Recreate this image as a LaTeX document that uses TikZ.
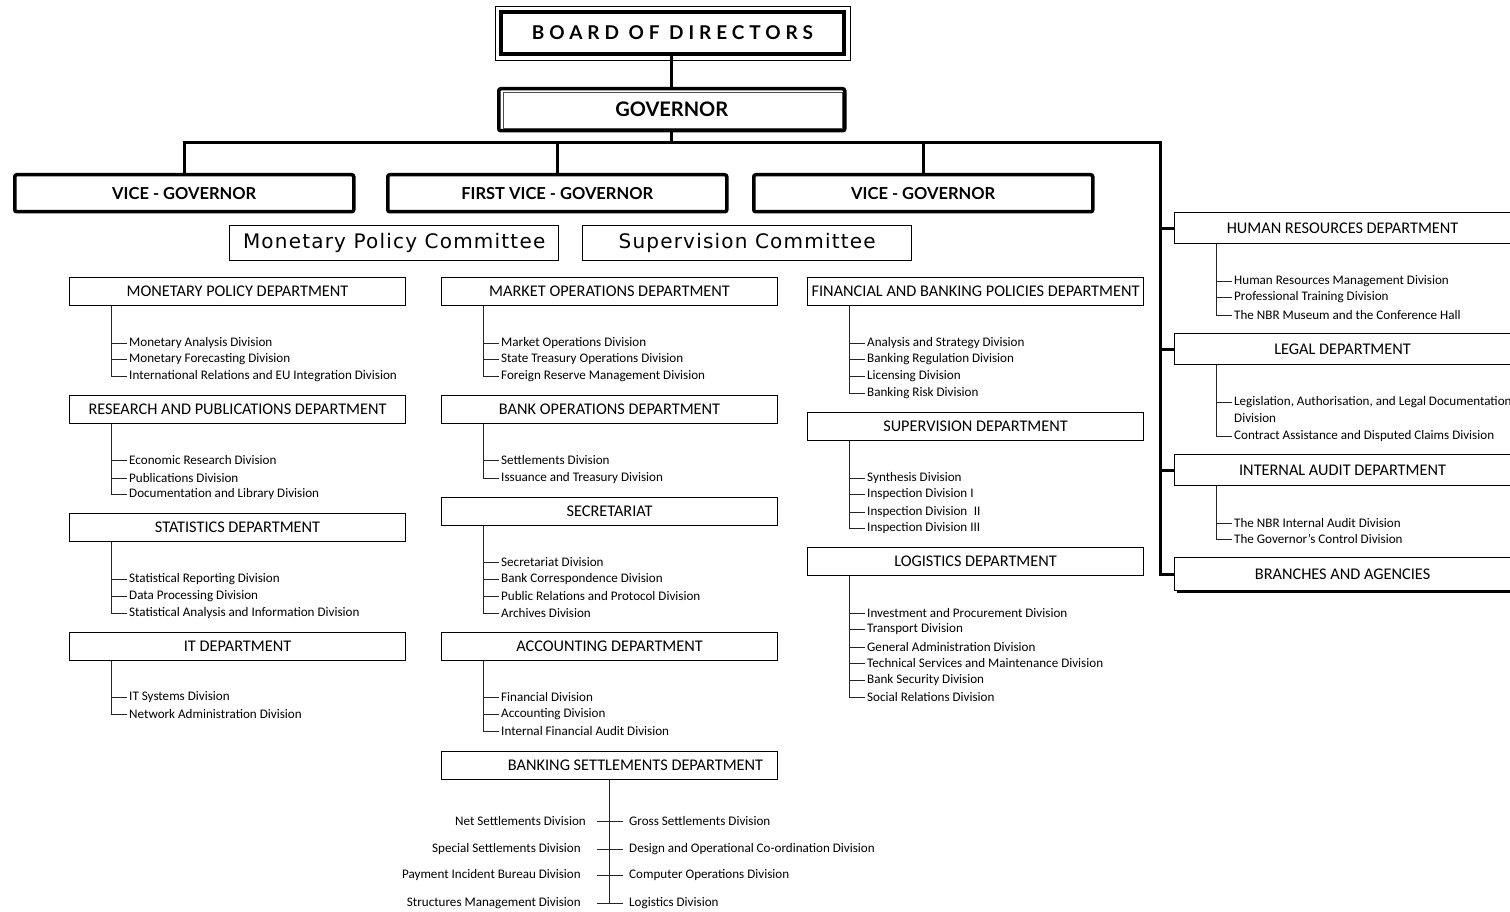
\documentclass[tikz,border=0pt]{standalone}
\usepackage{fontspec}
\setmainfont{Carlito}
\newfontfamily\hdfont{Lato}
\newfontfamily\boardfont[LetterSpace=26]{Lato}
\newfontfamily\comfont[LetterSpace=6]{DejaVu Sans}
\usetikzlibrary{calc,shadows}
\newcommand\divlist[4]{%
  \foreach \yy/\txt in {#4} {
    \node[divtext] (#1-\yy) at (#2,\yy) {\txt};
    \draw[divline] (#1-\yy.west) -- ++(-16,0);
  }
  \draw[divline] ([xshift=42pt]#1.south west) |- (#1-#3.west);
}
\begin{document}
\begin{tikzpicture}[x=1pt,y=-1pt,
  dept/.style={draw, line width=1.1pt, minimum width=336pt, minimum height=28pt, inner sep=0pt,
    anchor=north west, font=\fontsize{16.3}{18}\selectfont},
  rdept/.style={dept, minimum height=31pt},
  divtext/.style={anchor=west, inner sep=2pt, font=\fontsize{13.1}{15}\selectfont},
  divline/.style={line width=0.8pt, draw=black!85},
  vgbox/.style={draw, line width=3.5pt, rounded corners=2pt, minimum width=339pt, minimum height=37pt,
    inner sep=0pt, anchor=north west, font=\hdfont\bfseries\fontsize{16.5}{18}\selectfont},
  combox/.style={draw, line width=1.3pt, minimum width=329pt, minimum height=35pt, inner sep=0pt,
    anchor=north west, font=\comfont\fontsize{20}{22}\selectfont},
  bus/.style={line width=3pt}
]
\useasboundingbox (0,0) rectangle (1510,912);

% Board and governor
\node[draw, line width=4pt, minimum width=343pt, minimum height=42pt, inner sep=0pt, anchor=north west,
  font=\boardfont\bfseries\fontsize{19}{21}\selectfont] (board) at (499,10) {BOARD OF DIRECTORS};
\draw[line width=0.8pt] ([shift={(-4,-4)}]board.north west) rectangle ([shift={(4,4)}]board.south east);
\node[draw, line width=3.5pt, rounded corners=2pt, minimum width=346pt, minimum height=42pt, inner sep=0pt,
  anchor=north west, font=\hdfont\bfseries\fontsize{20}{22}\selectfont] (gov) at (497,87) {GOVERNOR};
\draw[line width=0.8pt, black!70] ([shift={(6,5)}]gov.north west) rectangle ([shift={(-4,-4)}]gov.south east);

% Vice governors
\node[vgbox] (vg1) at (13,173) {VICE - GOVERNOR};
\node[vgbox] (vg2) at (386,173) {FIRST VICE - GOVERNOR};
\node[vgbox] (vg3) at (752,173) {VICE - GOVERNOR};

% Committees
\node[combox] (mpc) at (229,225) {Monetary Policy Committee};
\node[combox] (supc) at (582,225) {Supervision Committee};

% Right column departments
\node[rdept] (hr) at (1174,212) {HUMAN RESOURCES DEPARTMENT};
\node[rdept] (legal) at (1174,333) {LEGAL DEPARTMENT};
\node[rdept] (ia) at (1174,454) {INTERNAL AUDIT DEPARTMENT};
\node[dept, minimum height=33pt, fill=white,
  drop shadow={shadow xshift=2pt, shadow yshift=-2pt, opacity=1, fill=black}] (br) at (1174,557) {BRANCHES AND AGENCIES};

% Bus lines
\coordinate (busL) at (182,143);
\coordinate (busR) at (1160,143);
\draw[bus] (gov.north) -- (gov.north |- board.south);
\draw[bus] (gov.south) -- (gov.south |- busL);
\draw[bus] (vg1.north) |- (busR) |- (br.west);
\draw[bus] (vg2.north) -- (vg2.north |- busL);
\draw[bus] (vg3.north) -- (vg3.north |- busL);
\draw[bus] (hr.west -| busR) -- (hr.west);
\draw[bus] (legal.west -| busR) -- (legal.west);
\draw[bus] (ia.west -| busR) -- (ia.west);

% Left column
\node[dept] (mpd) at (69,277) {MONETARY POLICY DEPARTMENT};
\divlist{mpd}{127}{376}{343/Monetary Analysis Division, 359/Monetary Forecasting Division, 376/International Relations and EU Integration Division}
\node[dept] (rpd) at (69,395) {RESEARCH AND PUBLICATIONS DEPARTMENT};
\divlist{rpd}{127}{494}{460/Economic Research Division, 478/Publications Division, 494/Documentation and Library Division}
\node[dept] (sd) at (69,513) {STATISTICS DEPARTMENT};
\divlist{sd}{127}{613}{579/Statistical Reporting Division, 596/Data Processing Division, 613/Statistical Analysis and Information Division}
\node[dept] (itd) at (69,632) {IT DEPARTMENT};
\divlist{itd}{127}{714}{697/IT Systems Division, 714/Network Administration Division}

% Middle column
\node[dept] (mod) at (441,277) {MARKET OPERATIONS DEPARTMENT};
\divlist{mod}{499}{376}{343/Market Operations Division, 359/State Treasury Operations Division, 376/Foreign Reserve Management Division}
\node[dept] (bod) at (441,395) {BANK OPERATIONS DEPARTMENT};
\divlist{bod}{499}{478}{460/Settlements Division, 478/Issuance and Treasury Division}
\node[dept] (sec) at (441,497) {SECRETARIAT};
\divlist{sec}{499}{613}{562/Secretariat Division, 579/Bank Correspondence Division, 596/Public Relations and Protocol Division, 613/Archives Division}
\node[dept] (acc) at (441,632) {ACCOUNTING DEPARTMENT};
\divlist{acc}{499}{731}{697/Financial Division, 714/Accounting Division, 731/Internal Financial Audit Division}
\node[dept] (bsd) at (441,751) {\hspace*{52pt}BANKING SETTLEMENTS DEPARTMENT};

% Banking settlements divisions
\foreach \yy/\lt/\rt/\le in {821/Net Settlements Division/Gross Settlements Division/588,
  849/Special Settlements Division/Design and Operational Co-ordination Division/583,
  875/Payment Incident Bureau Division/Computer Operations Division/583,
  903/Structures Management Division/Logistics Division/583} {
  \node[divtext, anchor=east] (bsl-\yy) at (\le,\yy) {\lt};
  \node[divtext] (bsr-\yy) at (627,\yy) {\rt};
  \draw[divline] ($(bsd.south |- bsr-\yy.west)+(-13,0)$) -- ($(bsd.south |- bsr-\yy.west)+(13,0)$);
}
\draw[divline] (bsd.south) -- (bsd.south |- bsr-903.west);

% Right-middle column
\node[dept] (fbp) at (807,277) {FINANCIAL AND BANKING POLICIES DEPARTMENT};
\divlist{fbp}{865}{393}{343/Analysis and Strategy Division, 359/Banking Regulation Division, 376/Licensing Division, 393/Banking Risk Division}
\node[dept] (sup) at (807,412) {SUPERVISION DEPARTMENT};
\divlist{sup}{865}{528}{478/Synthesis Division, 494/Inspection Division I, 512/Inspection Division\enspace II, 528/Inspection Division III}
\node[dept] (log) at (807,547) {LOGISTICS DEPARTMENT};
\divlist{log}{865}{697}{613/Investment and Procurement Division, 629/Transport Division, 647/General Administration Division, 663/Technical Services and Maintenance Division, 680/Bank Security Division, 697/Social Relations Division}

% Right column divisions
\divlist{hr}{1232}{315}{281/Human Resources Management Division, 297/Professional Training Division, 315/The NBR Museum and the Conference Hall}
\divlist{legal}{1232}{436}{402/{Legislation, Authorisation, and Legal Documentation}, 436/Contract Assistance and Disputed Claims Division}
\node[divtext] (legal-418) at (1232,418) {Division};
\divlist{ia}{1232}{539}{523/The NBR Internal Audit Division, 539/The Governor's Control Division}
\end{tikzpicture}
\end{document}
